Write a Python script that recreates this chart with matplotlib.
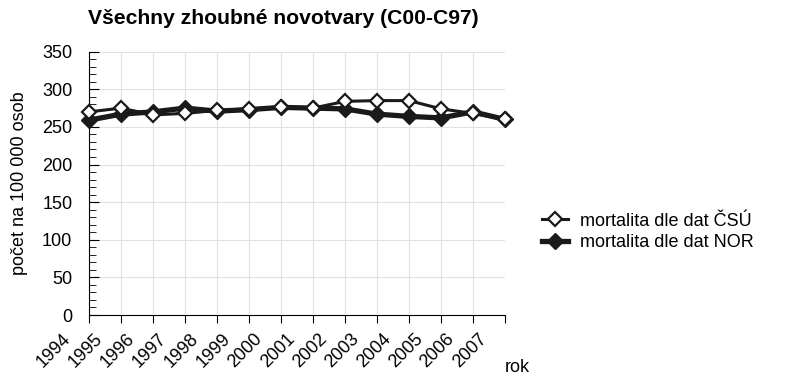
import matplotlib
matplotlib.use("Agg")
import matplotlib.pyplot as plt
import matplotlib.transforms as mtransforms
from matplotlib.ticker import MultipleLocator

plt.rcParams['font.family'] = ['Liberation Sans', 'DejaVu Sans']

# data
years = [1994, 1995, 1996, 1997, 1998, 1999, 2000, 2001, 2002, 2003, 2004, 2005, 2006, 2007]
csu = [270, 275, 266, 268, 272, 274, 276, 275, 284, 285, 285, 274, 268, 260]
nor = [259, 267, 270, 275, 271, 273, 276, 275, 274, 267, 264, 262, 270, 260]

title = "Všechny zhoubné novotvary (C00-C97)"
ylabel = "počet na 100 000 osob"
labels = ["mortalita dle dat ČSÚ", "mortalita dle dat NOR"]

W, H = 785, 391
fig = plt.figure(figsize=(W / 100, H / 100), dpi=100)
ax = fig.add_axes([89 / W, 1 - 315 / H, (505 - 89) / W, (315 - 51.7) / H])

ax.plot(years, nor, color='#1a1a1a', lw=3.8, marker='D', ms=8.5,
        mfc='#1a1a1a', mec='#1a1a1a', label=labels[1], zorder=3, clip_on=False)
ax.plot(years, csu, color='#1a1a1a', lw=2.2, marker='D', ms=7,
        mfc='white', mec='#1a1a1a', mew=1.6, label=labels[0], zorder=4, clip_on=False)

ax.set_xlim(years[0], years[-1])
ax.set_ylim(0, 350)
ax.set_xticks(years)
ax.yaxis.set_major_locator(MultipleLocator(50))
ax.yaxis.set_minor_locator(MultipleLocator(10))
ax.grid(True, color='#e2e2e2', lw=0.8, zorder=0)
ax.set_axisbelow(True)

for s in ['top', 'right']:
    ax.spines[s].set_visible(False)

ax.tick_params(axis='y', which='major', direction='in', length=7, labelsize=13, pad=12)
ax.tick_params(axis='y', which='minor', direction='in', length=5)
ax.tick_params(axis='x', direction='out', length=6, labelsize=13, pad=5)

ax.set_xticklabels([str(y) for y in years], rotation=45, ha='right', va='top')
shift = mtransforms.ScaledTranslation(-0.15, 0, fig.dpi_scale_trans)
for lab in ax.get_xticklabels():
    lab.set_transform(lab.get_transform() + shift)

fig.text(88 / W, 1 - 18 / H, title, fontsize=15.2, fontweight='bold', ha='left', va='center')
fig.text(20 / W, 1 - 183 / H, ylabel, fontsize=13, rotation=90, ha='center', va='center')
fig.text(505 / W, 1 - 368 / H, "rok", fontsize=13, ha='left', va='center')

h, l = ax.get_legend_handles_labels()
fig.legend(h[::-1], l[::-1], loc='center left', bbox_to_anchor=(526 / W, 1 - 232 / H),
           frameon=False, fontsize=13, handlelength=1.4, handletextpad=0.7, labelspacing=0.25)

fig.savefig("out.png", dpi=100)
